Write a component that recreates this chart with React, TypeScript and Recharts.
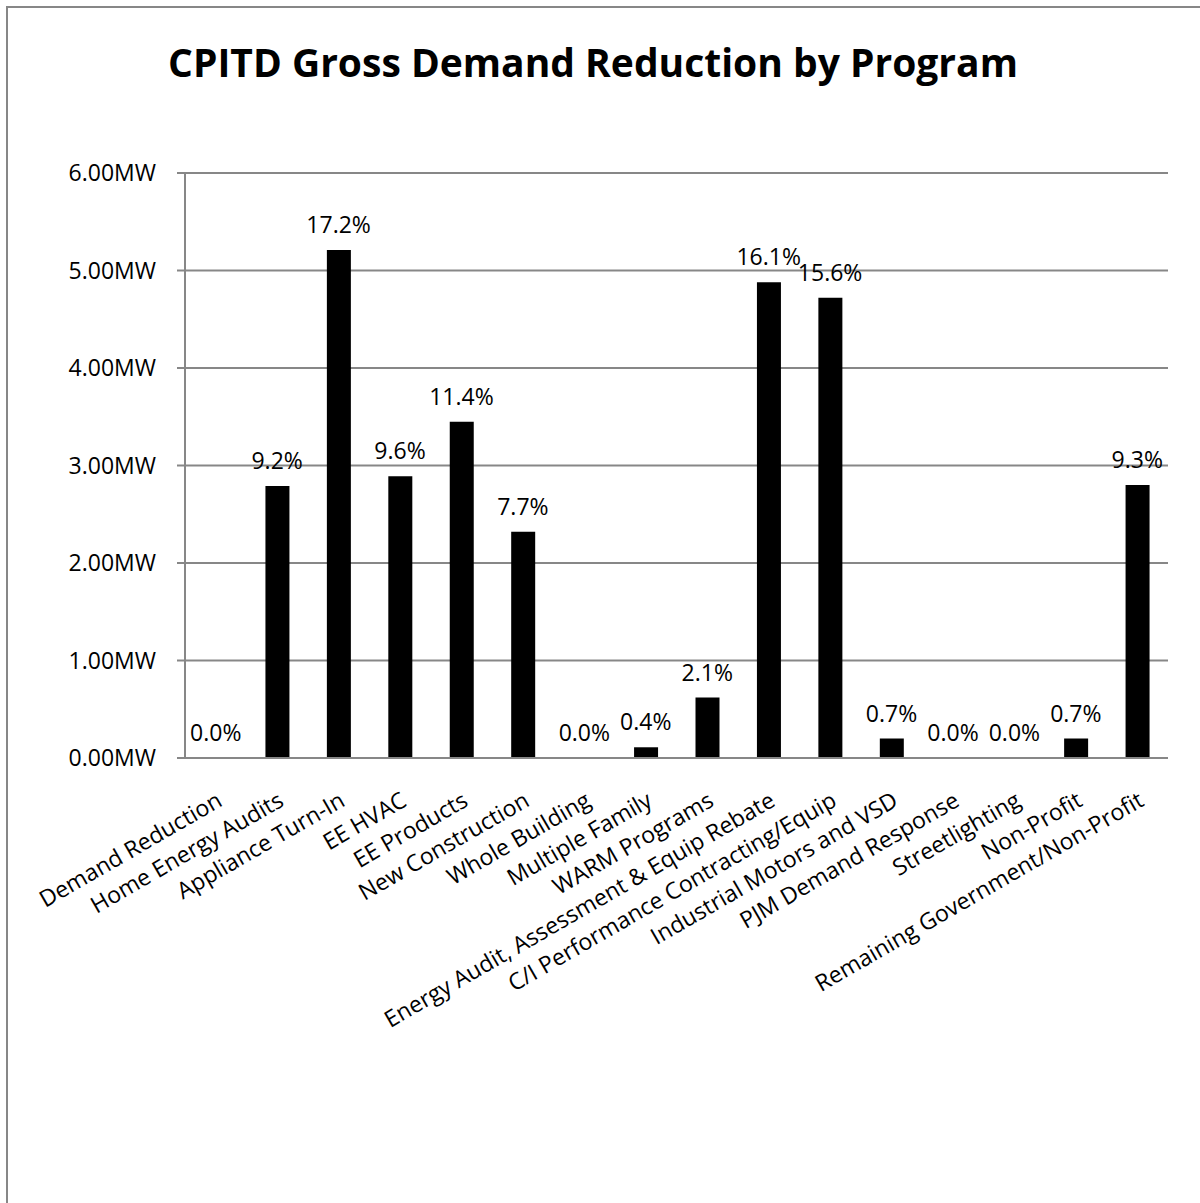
import React from 'react';
import {
  ComposedChart,
  Bar,
  Scatter,
  XAxis,
  YAxis,
  CartesianGrid,
} from 'recharts';

const FONT = '"Open Sans", "Noto Sans", sans-serif';
const GRID = '#878787';

const programs = [
  'Demand Reduction',
  'Home Energy Audits',
  'Appliance Turn-In',
  'EE HVAC',
  'EE Products',
  'New Construction',
  'Whole Building',
  'Multiple Family',
  'WARM Programs',
  'Energy Audit, Assessment & Equip Rebate',
  'C/I Performance Contracting/Equip',
  'Industrial Motors and VSD',
  'PJM Demand Response',
  'Streetlighting',
  'Non-Profit',
  'Remaining Government/Non-Profit',
];

// MW
const demandMW = [0, 2.79, 5.21, 2.89, 3.45, 2.32, 0, 0.11, 0.62, 4.88, 4.72, 0.2, 0, 0, 0.2, 2.8];

const shareLabels = [
  '0.0%', '9.2%', '17.2%', '9.6%', '11.4%', '7.7%', '0.0%', '0.4%',
  '2.1%', '16.1%', '15.6%', '0.7%', '0.0%', '0.0%', '0.7%', '9.3%',
];

const yTicks = [0, 1, 2, 3, 4, 5, 6];

const data = programs.map((name, i) => ({
  name,
  mw: demandMW[i],
  pct: shareLabels[i],
}));

const ProgramTick = ({ x, y, payload }: any) => {
  const ax = x + 8;
  const ay = y + 47;
  return (
    <text
      x={ax}
      y={ay}
      transform={`rotate(-30, ${ax}, ${ay})`}
      textAnchor="end"
      fontSize={23}
      fontFamily={FONT}
      fill="#000"
    >
      {payload.value}
    </text>
  );
};

// percentage label sitting above each bar (zero bars included)
const ShareLabel = (props: any) => {
  const { cx, cy, payload } = props;
  return (
    <text
      x={cx}
      y={cy - 17}
      textAnchor="middle"
      fontSize={23}
      fontFamily={FONT}
      fill="#000"
    >
      {payload.pct}
    </text>
  );
};

export default function App() {
  return (
    <div
      style={{
        position: 'absolute',
        left: 0,
        top: 0,
        width: 1200,
        height: 1203,
        overflow: 'hidden',
        background: '#fff',
      }}
    >
      <div
        style={{
          position: 'absolute',
          left: 6,
          top: 6,
          width: 1300,
          height: 1300,
          borderTop: `2px solid ${GRID}`,
          borderLeft: `2px solid ${GRID}`,
        }}
      />
      <div
        style={{
          position: 'absolute',
          left: 0,
          top: 42,
          width: 1186,
          textAlign: 'center',
          fontFamily: FONT,
          fontWeight: 700,
          fontSize: 39,
          lineHeight: '40px',
          color: '#000',
        }}
      >
        CPITD Gross Demand Reduction by Program
      </div>
      <div style={{ position: 'absolute', left: 0, top: 0 }}>
        <ComposedChart
          width={1200}
          height={1203}
          data={data}
          margin={{ top: 173, right: 32, left: 0, bottom: 0 }}
        >
          <CartesianGrid vertical={false} stroke={GRID} strokeWidth={2} />
          <XAxis
            dataKey="name"
            interval={0}
            height={445}
            tickLine={false}
            tickSize={0}
            tickMargin={0}
            axisLine={{ stroke: GRID, strokeWidth: 2 }}
            tick={<ProgramTick />}
          />
          <YAxis
            width={185}
            domain={[0, 6]}
            ticks={yTicks}
            interval={0}
            tickFormatter={(v: number) => `${v.toFixed(2)}MW`}
            tickSize={8}
            tickMargin={21}
            tickLine={{ stroke: GRID, strokeWidth: 2 }}
            axisLine={{ stroke: GRID, strokeWidth: 2 }}
            tick={{ fontSize: 23, fontFamily: FONT, fill: '#000' }}
          />
          <Bar dataKey="mw" fill="#000" barSize={24} isAnimationActive={false} />
          <Scatter dataKey="mw" shape={<ShareLabel />} isAnimationActive={false} />
        </ComposedChart>
      </div>
    </div>
  );
}
